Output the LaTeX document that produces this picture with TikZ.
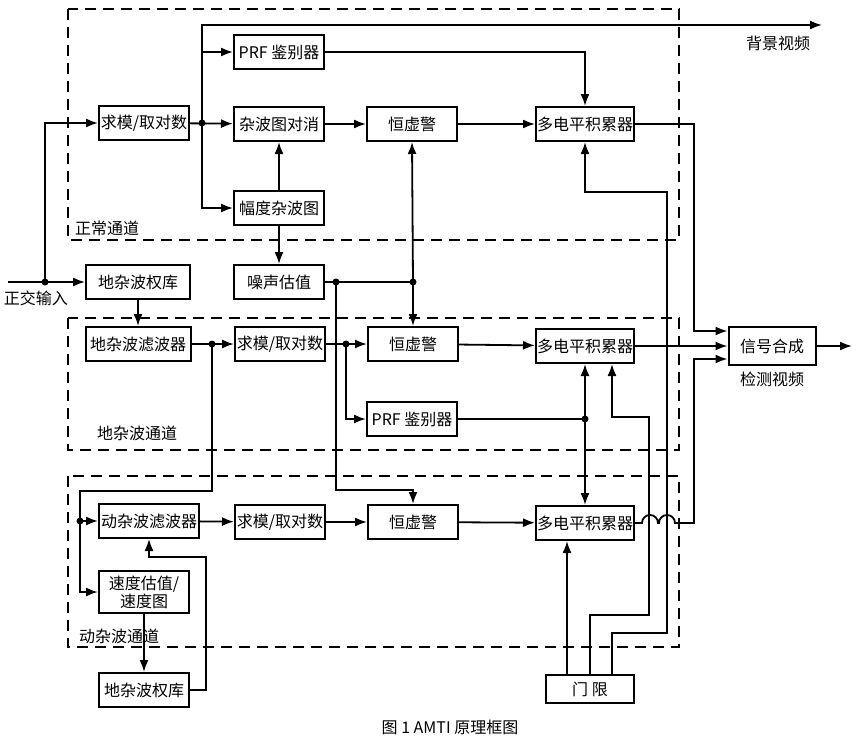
\documentclass[tikz,border=0pt]{standalone}
\usepackage{fontspec}
\setmainfont{Noto Sans CJK SC}
\usetikzlibrary{arrows.meta}

\tikzset{
  blk/.style={draw, line width=2pt, minimum width=90, minimum height=34, inner sep=1pt, font=\fontsize{16}{18}\selectfont},
  grp/.style={line width=2pt, dash pattern=on 11pt off 7pt},
  lbl/.style={font=\fontsize{16}{18}\selectfont},
  dot/.style={circle, fill, inner sep=0pt, minimum size=7pt}
}

\begin{document}
\begin{tikzpicture}[x=1pt, y=-1pt, line width=1.8pt, >={Latex[length=12pt,width=9pt]}]
\useasboundingbox (0,0) rectangle (859,747);

% channel frames
\draw[grp] (68,9) rectangle (679,240);
\draw[grp] (68,318) rectangle (679,450);
\draw[grp] (68,476) rectangle (679,647);
\node[lbl] at (107,228) {正常通道};
\node[lbl] at (137,433) {地杂波通道};
\node[lbl] at (119,636) {动杂波通道};

% normal channel
\node[blk] (prfA) at (279,52) {PRF 鉴别器};
\node[blk] (qmA) at (144,123) {求模/取对数};
\node[blk] (xc) at (279,124) {杂波图对消};
\node[blk] (hxA) at (412,124) {恒虚警};
\node[blk, minimum width=97] (dpA) at (585,124) {多电平积累器};
\node[blk] (fd) at (279,208) {幅度杂波图};
\node[blk] (zs) at (279,282) {噪声估值};
\node[blk, minimum width=104] (dqA) at (138,282) {地杂波权库};

% ground clutter channel
\node[blk, minimum width=105] (dlb) at (138,344) {地杂波滤波器};
\node[blk] (qmB) at (280,344) {求模/取对数};
\node[blk] (hxB) at (413,344) {恒虚警};
\node[blk, minimum width=97] (dpB) at (585,346) {多电平积累器};
\node[blk] (prfB) at (412,419) {PRF 鉴别器};
\node[blk, minimum width=87, minimum height=38] (sc) at (772,346) {信号合成};

% moving clutter channel
\node[blk, minimum width=100] (dzl) at (149,521) {动杂波滤波器};
\node[blk] (qmC) at (280,522) {求模/取对数};
\node[blk] (hxC) at (413,522) {恒虚警};
\node[blk, minimum width=97] (dpC) at (585,523) {多电平积累器};
\node[blk, minimum height=42, align=center, font=\fontsize{16}{18}\selectfont] (sd) at (144,592) {速度估值/\\速度图};
\node[blk] (dqB) at (144,690) {地杂波权库};
\node[blk, minimum width=88, minimum height=28] (mx) at (590,689) {门\ 限};

\coordinate (in) at (8,282);
\coordinate (bg) at (822,25);
\coordinate (out) at (852,346);
\node[lbl] at (36,298) {正交输入};
\node[lbl] at (778,43) {背景视频};
\node[lbl] at (772,379) {检测视频};
\node[lbl] at (450,727) {图 1 AMTI 原理框图};

\coordinate (j1) at (45,282);
\coordinate (j2) at (202,123);
\coordinate (j3) at (336,282);
\coordinate (j4) at (413,282);
\coordinate (j5) at (212,344);
\coordinate (j6) at (80,521);
\coordinate (j7) at (346,344);
\coordinate (j8) at (585,419);
\foreach \j in {j1,j2,j3,j4,j5,j6,j7,j8}
  \fill (\j) circle (3.5);

\draw[->] (in) -- (dqA.west);
\draw[->] (j1) |- (qmA.west);
\draw[->] (qmA) -- (xc);
\draw[->] (j2) |- (prfA.west);
\draw[->] (j2) |- (fd.west);
\draw[->] (j2) |- (bg);
\draw[->] (prfA.east) -| (dpA.north);
\draw[->] (xc) -- (hxA);
\draw[->] (hxA) -- (dpA);
\draw[->] (fd) -- (xc);
\draw[->] (fd) -- (zs);
\draw (zs.east) -- (j4);
\draw[->] (j4) -- (hxA.south);
\draw[->] (j4) -- (hxB.north);
\draw[->] (j3) -- (336,490) -| (hxC.north);
\draw[->] (dpA.east) -- (694,124) -- (694,331) -- (sc.west |- 0,331);
\draw[->] (dpB) -- (sc);
\draw[->] (dpC.east) -- (642,523) arc[start angle=180, end angle=360, radius=8]
  -- (659,523) arc[start angle=180, end angle=360, radius=8]
  -- (694,523) -- (694,359) -- (sc.west |- 0,359);
\draw[->] (sc) -- (out);

\draw[->] (dqA) -- (dlb);
\draw[->] (dlb) -- (qmB);
\draw (j5) -- (212,491) -- (80,491) -- (j6);
\draw[->] (j6) -- (dzl.west);
\draw[->] (j6) |- (sd.west);
\draw[->] (qmB) -- (hxB);
\draw[->] (j7) |- (prfB.west);
\draw[->] (hxB) -- (dpB);
\draw (prfB.east) -- (j8);
\draw[->] (j8) -- (dpB.south);
\draw[->] (j8) -- (dpC.north);

\draw[->] (mx.north -| 567,0) -- (dpC.south -| 567,0);
\draw[->] (mx.north -| 590,0) -- (590,615) -- (649,615) -- (649,417) -- (612,417) -- (dpB.south -| 612,0);
\draw[->] (mx.north -| 612,0) -- (612,633) -- (667,633) -- (667,192) -- (585,192) -- (dpA.south);

\draw[->] (dzl) -- (qmC);
\draw[->] (qmC) -- (hxC);
\draw[->] (hxC) -- (dpC);
\draw[->] (sd) -- (dqB);
\draw[->] (dqB.east) -- (206,690) -- (206,557) -- (149,557) -- (dzl.south);
\end{tikzpicture}
\end{document}
